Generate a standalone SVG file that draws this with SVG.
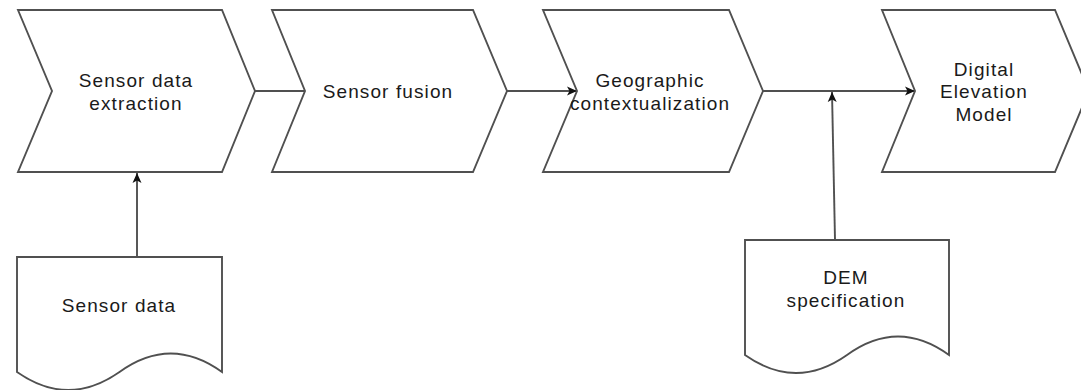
<svg xmlns="http://www.w3.org/2000/svg" width="1081" height="390" viewBox="0 0 1081 390">
  <defs>
    <style>
      .shape { fill: #ffffff; stroke: #505050; stroke-width: 1.9; stroke-linejoin: miter; }
      .conn { fill: none; stroke: #505050; stroke-width: 1.9; }
      .lbl { font-family: "Liberation Sans", Arial, sans-serif; font-size: 19px; letter-spacing: 1.1px; fill: #1a1a1a; text-anchor: middle; }
    </style>
    <marker id="arrow" viewBox="0 0 10 10" refX="10" refY="5" markerWidth="10" markerHeight="10" markerUnits="userSpaceOnUse" orient="auto">
      <path d="M0,0.5 L10,5 L0,9.5 L2.5,5 Z" fill="#111111"/>
    </marker>
  </defs>
  <rect width="1081" height="390" fill="#ffffff"/>

  <g id="connectors">
    <line class="conn" x1="255" y1="91" x2="305" y2="91"/>
    <line class="conn" x1="507" y1="91" x2="577" y2="91" marker-end="url(#arrow)"/>
    <line class="conn" x1="763" y1="91" x2="915" y2="91" marker-end="url(#arrow)"/>
    <line class="conn" x1="137" y1="257" x2="137" y2="173" marker-end="url(#arrow)"/>
    <line class="conn" x1="835" y1="240" x2="832" y2="92" marker-end="url(#arrow)"/>
  </g>

  <g id="sensor-data-extraction">
    <polygon class="shape" points="18,10 222,10 255,91 222,172 18,172 52,91"/>
    <text class="lbl" x="136" y="87">Sensor data</text>
    <text class="lbl" x="136" y="110">extraction</text>
  </g>

  <g id="sensor-fusion">
    <polygon class="shape" points="272,10 473,10 507,91 473,172 272,172 305,91"/>
    <text class="lbl" x="388" y="98">Sensor fusion</text>
  </g>

  <g id="geographic-contextualization">
    <polygon class="shape" points="543,10 729,10 763,91 729,172 543,172 577,91"/>
    <text class="lbl" x="650" y="87">Geographic</text>
    <text class="lbl" x="650" y="110">contextualization</text>
  </g>

  <g id="digital-elevation-model">
    <polygon class="shape" points="882,10 1055,10 1089,91 1055,172 882,172 915,91"/>
    <text class="lbl" x="984" y="76">Digital</text>
    <text class="lbl" x="984" y="98">Elevation</text>
    <text class="lbl" x="984" y="121">Model</text>
  </g>

  <g id="sensor-data">
    <path class="shape" d="M17,257 L222,257 L222,372 Q170.75,335 119.5,372 Q68.25,408 17,372 Z"/>
    <text class="lbl" x="119" y="312">Sensor data</text>
  </g>

  <g id="dem-specification">
    <path class="shape" d="M745,240 L949,240 L949,355 Q898,318 847,355 Q796,391 745,355 Z"/>
    <text class="lbl" x="846" y="284">DEM</text>
    <text class="lbl" x="846" y="307">specification</text>
  </g>
</svg>
